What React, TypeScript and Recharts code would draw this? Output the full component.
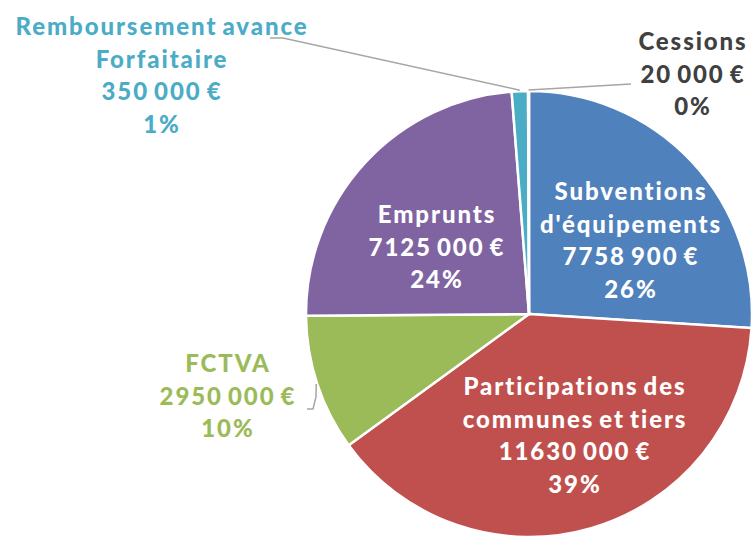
import React from 'react';
import { PieChart, Pie, Cell } from 'recharts';

// ---- data ----
const categories = [
  "Subventions d'équipements",
  'Participations des communes et tiers',
  'FCTVA',
  'Emprunts',
  'Remboursement avance Forfaitaire',
  'Cessions',
];
const nameLines = [
  ['Subventions', "d'équipements"],
  ['Participations des', 'communes et tiers'],
  ['FCTVA'],
  ['Emprunts'],
  ['Remboursement avance', 'Forfaitaire'],
  ['Cessions'],
];
const values = [7758900, 11630000, 2950000, 7125000, 350000, 20000];
const valueTexts = ['7758 900 €', '11630 000 €', '2950 000 €', '7125 000 €', '350 000 €', '20 000 €'];

// ---- styles ----
const colors = ['#4F81BD', '#C0504D', '#9BBB59', '#8064A2', '#4BACC6', '#F79646'];
const labelColors = ['#FFFFFF', '#FFFFFF', '#9BBB59', '#FFFFFF', '#4BACC6', '#404040'];
// label first-line centre offsets from pie centre (px)
const labelOffsets = [
  [102, -124],
  [46, 71],
  [-301, 48],
  [-92, -101],
  [-367, -289],
  [164, -274],
];
// leader line extra points (offsets from pie centre), drawn from slice edge
const leaderPoints: (number[][] | null)[] = [
  null,
  null,
  [[-213, 83], [-216, 95], [-222, 95]],
  null,
  [[-246, -276], [-259, -276]],
  [[102, -230]],
];

const data = categories.map((name, i) => ({ name, value: values[i] }));

const CX = 529;
const CY = 314;
const R = 223;
const LINE_H = 32.5;
const FONT = 'Lato, "Open Sans", sans-serif';

const RAD = Math.PI / 180;

const renderLabel = (props: any) => {
  const { cx, cy, midAngle, outerRadius, percent } = props;
  const idx = typeof props.index === 'number' ? props.index : categories.indexOf(props.name);
  const [dx, dy] = labelOffsets[idx];
  const x = cx + dx;
  const y = cy + dy;
  const lines = [...nameLines[idx], valueTexts[idx], `${Math.round(percent * 100)}%`];
  const lp = leaderPoints[idx];
  let leader = null;
  if (lp) {
    const sx = cx + (outerRadius + 1) * Math.cos(-midAngle * RAD);
    const sy = cy + (outerRadius + 1) * Math.sin(-midAngle * RAD);
    const pts = [[sx, sy], ...lp.map(([px, py]) => [cx + px, cy + py])];
    leader = (
      <polyline
        points={pts.map((p) => p.join(',')).join(' ')}
        fill="none"
        stroke="#A6A6A6"
        strokeWidth={1.5}
      />
    );
  }
  return (
    <g key={`lbl-${idx}`}>
      {leader}
      <text
        x={x}
        y={y}
        fill={labelColors[idx]}
        textAnchor="middle"
        dominantBaseline="central"
        fontFamily={FONT}
        fontWeight={900}
        fontSize={24}
        letterSpacing={1.9}
        wordSpacing={-2.5}
      >
        {lines.map((l, i) => (
          <tspan key={i} x={x} dy={i === 0 ? 0 : LINE_H}>
            {l}
          </tspan>
        ))}
      </text>
    </g>
  );
};

export default function App() {
  return (
    <div style={{ position: 'absolute', left: 0, top: 0, width: 753, height: 536, background: '#fff' }}>
      <PieChart width={753} height={536} margin={{ top: 0, right: 0, bottom: 0, left: 0 }}>
        <Pie
          data={data}
          dataKey="value"
          nameKey="name"
          cx={CX}
          cy={CY}
          outerRadius={R}
          startAngle={90}
          endAngle={-270}
          stroke="#FFFFFF"
          strokeWidth={2.5}
          label={renderLabel}
          labelLine={false}
          isAnimationActive={false}
        >
          {data.map((d, i) => (
            <Cell key={d.name} fill={colors[i]} />
          ))}
        </Pie>
      </PieChart>
    </div>
  );
}
